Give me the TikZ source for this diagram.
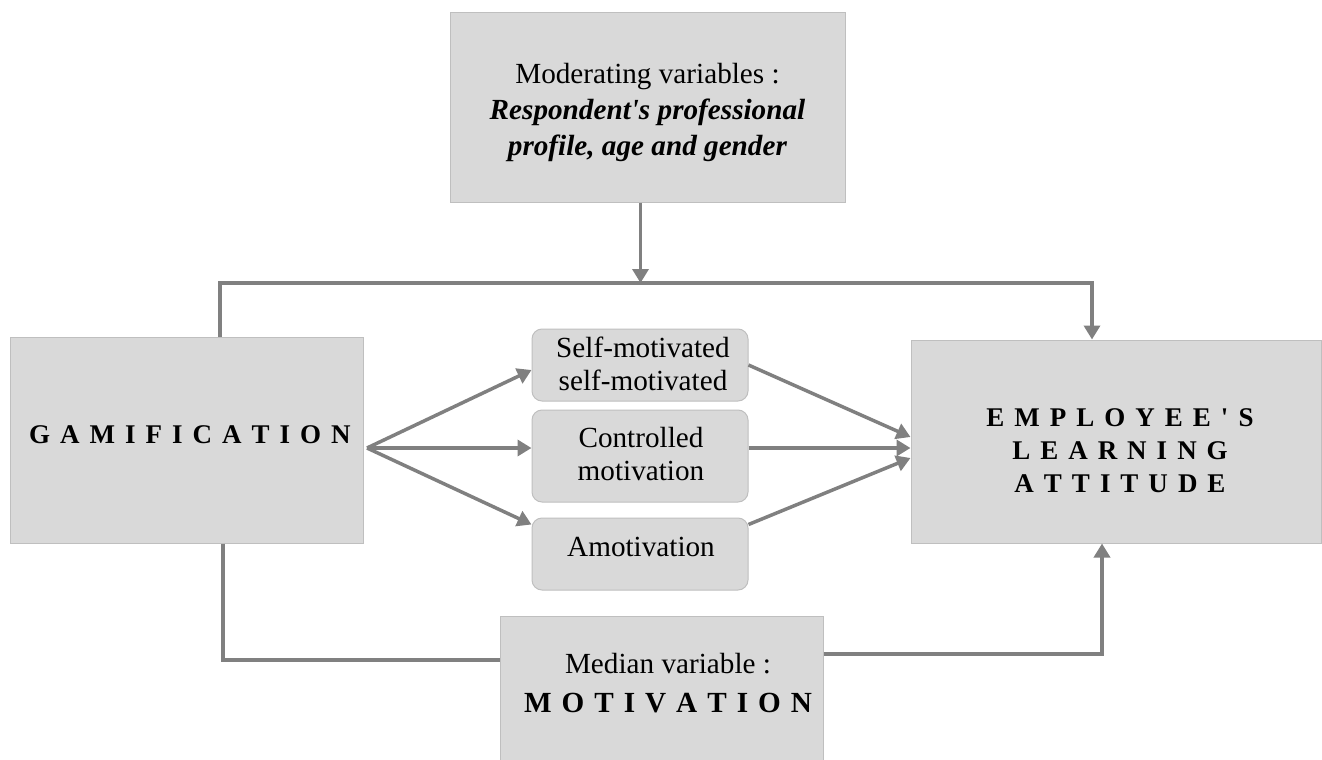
\documentclass[tikz,border=0pt]{standalone}
\usepackage{fontspec}
\setmainfont{Liberation Serif}
\usetikzlibrary{arrows.meta}
\definecolor{boxfill}{HTML}{D9D9D9}
\definecolor{boxline}{HTML}{BFBFBF}
\definecolor{conncol}{HTML}{808080}
\newcommand{\spacedtxt}[1]{{\spaceskip=10pt\relax #1}}
\begin{document}
\begin{tikzpicture}[x=1pt,y=-1pt,
  box/.style={draw=boxline, fill=boxfill, line width=1pt, inner sep=0pt},
  rbox/.style={box, rounded corners=10pt},
  conn/.style={draw=conncol, line width=3.5pt},
  arr/.style={conn, -{Triangle[length=14pt,width=16pt]}},
  txt/.style={align=center, inner sep=0pt, font=\fontsize{29.2}{33}\selectfont},
  btxt/.style={align=center, inner sep=0pt, font=\bfseries\fontsize{27}{33}\selectfont},
]
\useasboundingbox (0,0) rectangle (1322,760);

% boxes
\node[box, minimum width=395pt, minimum height=189pt] (mod) at (647.5,107.5) {};
\node[box, minimum width=353pt, minimum height=206pt] (gam) at (186.5,440) {};
\node[box, minimum width=410pt, minimum height=203pt] (emp) at (1116,441.5) {};
\node[box, minimum width=323pt, minimum height=149pt] (med) at (661.5,690.5) {};
\node[rbox, minimum width=216pt, minimum height=72pt] (self) at (640,365) {};
\node[rbox, minimum width=216pt, minimum height=92pt] (ctrl) at (640,456) {};
\node[rbox, minimum width=216pt, minimum height=72pt] (amo) at (640,554) {};

% texts
\node[txt] (modtxt) at (647.5,112) {Moderating variables :\\[3pt]
  \textbf{\textit{Respondent\textquotesingle s professional}}\\[3pt]
  \textbf{\textit{profile, age and gender}}};
\node[btxt] (gamtxt) at (190,435) {\spacedtxt{G A M I F I C A T I O N}};
\node[btxt] (emptxt) at (1120,450.5) {\spacedtxt{E M P L O Y E E \textquotesingle{} S}\\
  \spacedtxt{L E A R N I N G}\\ \spacedtxt{A T T I T U D E}};
\node[txt] (medtxt) at (668,683) {Median variable :\\[6pt]
  \textbf{\spacedtxt{M O T I V A T I O N}}};
\node[txt] (selftxt) at (643,364) {Self-motivated\\self-motivated};
\node[txt] (ctrltxt) at (641,454) {Controlled\\motivation};
\node[txt] (amotxt) at (641,547) {Amotivation};

% helper coordinates
\coordinate (tl) at (220,283);
\coordinate (tr) at (1092,283);
\coordinate (bl) at (223,660);
\coordinate (br) at (1102,654);
\coordinate (fan) at (367,448);

% connectors
\draw[arr] ([xshift=-7pt]mod.south) -- ([xshift=-7pt]mod.south |- tl);
\draw[arr] (gam.north -| tl) -- (tl) -- (tr) -- (emp.north -| tr);
\draw[conn] (gam.south -| bl) -- (bl) -- (med.west |- bl);
\draw[arr] (med.east |- br) -- (br) -- (emp.south -| br);

\draw[arr] (fan) -- ([yshift=-5pt]self.west);
\draw[arr] (fan) -- ([yshift=8pt]ctrl.west);
\draw[arr] (fan) -- ([yshift=-7pt]amo.north west);

\draw[arr] (self.east) -- ([yshift=4.5pt]emp.west);
\draw[arr] ([yshift=8pt]ctrl.east) -- ([yshift=-6.5pt]emp.west);
\draw[arr] ([yshift=-7pt]amo.north east) -- ([yshift=-16.5pt]emp.west);
\end{tikzpicture}
\end{document}
